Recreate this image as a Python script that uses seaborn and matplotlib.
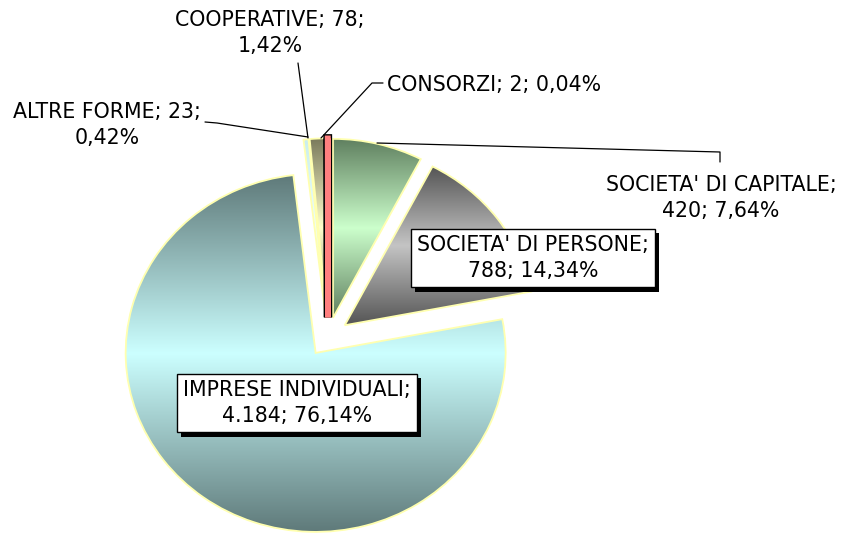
import numpy as np
import matplotlib
matplotlib.use("Agg")
import matplotlib.pyplot as plt
import matplotlib.patheffects as pe
import seaborn as sns

# dati (in senso orario partendo dall'alto)
categories = ["SOCIETA' DI CAPITALE", "SOCIETA' DI PERSONE", "IMPRESE INDIVIDUALI",
              "ALTRE FORME", "COOPERATIVE", "CONSORZI"]
counts = [420, 788, 4184, 23, 78, 2]
count_labels = ["420", "788", "4.184", "23", "78", "2"]
pct_labels = ["7,64%", "14,34%", "76,14%", "0,42%", "1,42%", "0,04%"]

# colori sfumati: scuro ai bordi, chiaro al centro
dark_colors = ["#5f7f5f", "#555555", "#5f7a7a", "#c8eeee", "#7a7a5c", "#ff7f7f"]
light_colors = ["#ccffcc", "#c4c4c4", "#ccffff", "#eeffff", "#ffffcc", "#ff7f7f"]

W, H = 846, 533
sns.set_theme(style="white")
plt.rcParams["font.family"] = ["DejaVu Sans"]
plt.rcParams["text.color"] = "black"

fig = plt.figure(figsize=(W / 100, H / 100), dpi=100)
ax = fig.add_axes([0, 0, 1, 1])

wedges, _ = ax.pie(counts, startangle=90, counterclock=False,
                   explode=[0.11] * len(counts), radius=1,
                   wedgeprops=dict(edgecolor="#ffffb0", linewidth=1.3, facecolor="none"))
# la fetta minuscola dei consorzi resta visibile come nell'originale
wedges[-1].set_edgecolor("#ff7f7f")
wedges[-1].set_facecolor("#ff7f7f")
wedges[-1].set_path_effects([pe.Stroke(linewidth=6, foreground="black"),
                             pe.Stroke(linewidth=4, foreground="#ff7f7f")])

for w, dk, lt in zip(wedges, dark_colors, light_colors):
    bb = w.get_path().get_extents()
    cmap = sns.blend_palette([dk, lt, dk], as_cmap=True)
    grad = np.linspace(0, 1, 256).reshape(-1, 1)
    im = ax.imshow(grad, cmap=cmap, extent=[bb.x0, bb.x1, bb.y0, bb.y1],
                   aspect="auto", origin="lower", zorder=0.5, interpolation="bilinear")
    im.set_clip_path(w)
    w.set_zorder(1)

# torta leggermente ellittica come nell'originale
cx, cy, rx, ry = 328, 337, 190, 179
ax.set_aspect("auto")
ax.set_xlim(-cx / rx, (W - cx) / rx)
ax.set_ylim(-(H - cy) / ry, cy / ry)
ax.axis("off")


def fx(x):
    return x / W


def fy(y):
    return 1 - y / H


def label_text(i, split):
    if split == 1:
        return f"{categories[i]};\n{count_labels[i]}; {pct_labels[i]}"
    if split == 2:
        return f"{categories[i]}; {count_labels[i]};\n{pct_labels[i]}"
    return f"{categories[i]}; {count_labels[i]}; {pct_labels[i]}"


fs = 14.8
ls = 1.4
# etichette con riquadro
for i, (x, y) in [(1, (533, 258)), (2, (297, 403))]:
    t = fig.text(fx(x), fy(y), label_text(i, 1), ha="center", va="center",
                 fontsize=fs, linespacing=ls, multialignment="center", zorder=5,
                 bbox=dict(boxstyle="square,pad=0.3", fc="white", ec="black", lw=1))
    t.get_bbox_patch().set_path_effects([
        pe.SimplePatchShadow(offset=(3, -3), shadow_rgbFace="black", alpha=1),
        pe.Normal()])

# etichette esterne
fig.text(fx(721), fy(198), label_text(0, 1), ha="center", va="center",
         fontsize=fs, linespacing=ls, multialignment="center")
fig.text(fx(270), fy(33), label_text(4, 2), ha="center", va="center",
         fontsize=fs, linespacing=ls, multialignment="center")
fig.text(fx(107), fy(125), label_text(3, 2), ha="center", va="center",
         fontsize=fs, linespacing=ls, multialignment="center")
fig.text(fx(387), fy(85), label_text(5, 0), ha="left", va="center", fontsize=fs)

# linee di richiamo
leaders = [
    [(720, 162), (720, 152), (377, 143)],
    [(383, 83), (372, 83), (321, 138)],
    [(298, 63), (308, 138)],
    [(205, 122), (217, 123), (308, 137)],
]
for pts in leaders:
    xs = [fx(p[0]) for p in pts]
    ys = [fy(p[1]) for p in pts]
    fig.add_artist(plt.Line2D(xs, ys, color="black", lw=0.9, transform=fig.transFigure))

fig.savefig("out.png", dpi=100, facecolor="white")
